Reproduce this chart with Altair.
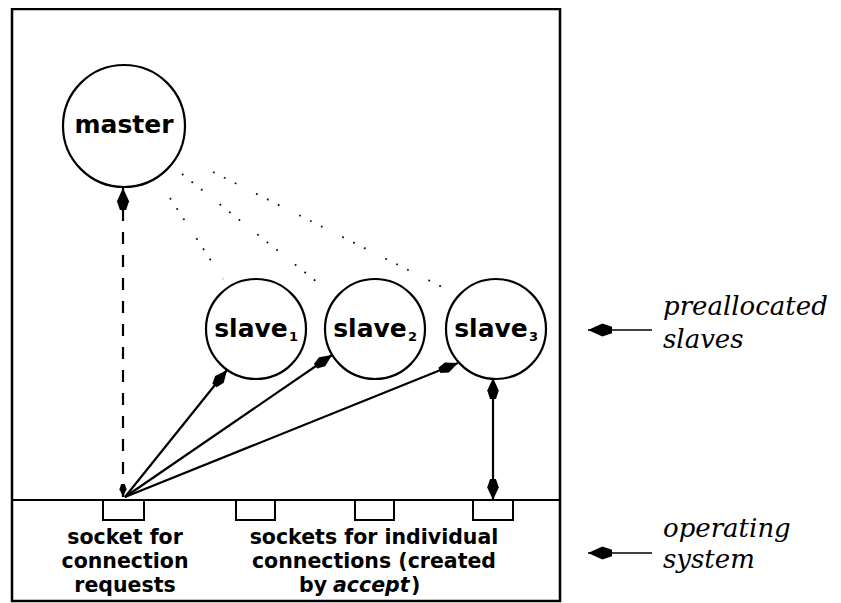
import math
import altair as alt
import pandas as pd

# ---- frame of the figure (pixel space of the picture) ----
X_DOMAIN = [8, 833]
Y_DOMAIN = [8, 603]

# outer box and operating-system divider
box_left, box_right, box_top, box_bottom = [12], [560], [9], [601]
os_line_y = [500]

# processes (circles)
node_label = ["master", "slave", "slave", "slave"]
node_sub = ["", "1", "2", "3"]
node_cx = [124, 256, 375, 496]
node_cy = [126, 329, 329, 329]
node_r = [61, 50, 50, 50]

# sockets (small boxes hanging under the divider)
socket_x = [103, 236, 355, 473]
socket_x2 = [144, 275, 394, 513]
socket_y = [500, 500, 500, 500]
socket_y2 = [520, 520, 520, 520]

# arrows: start -> end, style, heads
arrow_x1 = [123, 125, 125, 125, 493, 652, 652]
arrow_y1 = [497, 497, 497, 497, 500, 330, 553]
arrow_x2 = [123, 227, 332, 458, 493, 588, 588]
arrow_y2 = [188, 370, 355, 363, 378, 330, 553]
arrow_style = ["dash", "solid", "solid", "solid", "solid", "thin", "thin"]
arrow_head_end = [484, 400, 400, 400, 441, 576, 576]     # head size (area units)
arrow_head_start = [169, 0, 0, 0, 441, 0, 0]

# dotted lines master -> slaves
dot_x1 = [170, 182, 213]
dot_y1 = [198, 174, 172]
dot_x2 = [223, 327, 448]
dot_y2 = [279, 290, 290]

# bottom captions
cap_left = ["socket for", "connection", "requests"]
cap_right = ["sockets for individual", "connections (created"]
cap_baselines = [544, 568, 592]

# side labels
side_text = ["preallocated", "slaves", "operating", "system"]
side_y = [315, 348, 537, 568]

HEAD = "M0,-1L0.55,0.2L0.28,1L-0.28,1L-0.55,0.2Z"

xs = alt.Scale(domain=X_DOMAIN, nice=False, zero=False)
ys = alt.Scale(domain=Y_DOMAIN, reverse=True, nice=False, zero=False)


def X(f):
    return alt.X(f, type="quantitative", scale=xs, axis=None)


def Y(f):
    return alt.Y(f, type="quantitative", scale=ys, axis=None)


layers = []

# outer box
box_df = pd.DataFrame({"x": box_left, "x2": box_right, "y": box_top, "y2": box_bottom})
layers.append(
    alt.Chart(box_df).mark_rect(fill="white", stroke="black", strokeWidth=2.5)
    .encode(x=X("x"), x2="x2", y=Y("y"), y2="y2")
)

# divider
div_df = pd.DataFrame({"x": box_left, "x2": box_right, "y": os_line_y})
layers.append(
    alt.Chart(div_df).mark_rule(color="black", strokeWidth=2)
    .encode(x=X("x"), x2="x2", y=Y("y"))
)

# sockets
sock_df = pd.DataFrame({"x": socket_x, "x2": socket_x2, "y": socket_y, "y2": socket_y2})
layers.append(
    alt.Chart(sock_df).mark_rect(fill="white", stroke="black", strokeWidth=2)
    .encode(x=X("x"), x2="x2", y=Y("y"), y2="y2")
)

# dotted lines
dot_df = pd.DataFrame({"x": dot_x1, "y": dot_y1, "x2": dot_x2, "y2": dot_y2})
layers.append(
    alt.Chart(dot_df).mark_rule(color="#111", strokeWidth=1.8,
                                strokeDash=[1.8, 10.4, 1.8, 10.4, 1.8, 22])
    .encode(x=X("x"), y=Y("y"), x2="x2", y2="y2")
)

# arrows
arr_df = pd.DataFrame({"x": arrow_x1, "y": arrow_y1, "x2": arrow_x2, "y2": arrow_y2,
                       "style": arrow_style})
for style, kw in [("dash", dict(strokeWidth=2.2, strokeDash=[12, 11])),
                  ("solid", dict(strokeWidth=2.2)),
                  ("thin", dict(strokeWidth=1.3))]:
    layers.append(
        alt.Chart(arr_df[arr_df["style"] == style]).mark_rule(color="black", **kw)
        .encode(x=X("x"), y=Y("y"), x2="x2", y2="y2")
    )

# arrow heads
hx, hy, ha, hs = [], [], [], []


def add_head(tx, ty, fx, fy, size):
    L = math.sqrt(size)
    dx, dy = tx - fx, ty - fy
    n = math.hypot(dx, dy)
    dx, dy = dx / n, dy / n
    hx.append(tx - dx * L / 2)
    hy.append(ty - dy * L / 2)
    ha.append(math.degrees(math.atan2(dx, -dy)) % 360)
    hs.append(size)


for i in range(len(arrow_x1)):
    if arrow_head_end[i]:
        add_head(arrow_x2[i], arrow_y2[i], arrow_x1[i], arrow_y1[i], arrow_head_end[i])
    if arrow_head_start[i]:
        add_head(arrow_x1[i], arrow_y1[i], arrow_x2[i], arrow_y2[i], arrow_head_start[i])
head_df = pd.DataFrame({"x": hx, "y": hy, "angle": ha, "size": hs})
layers.append(
    alt.Chart(head_df).mark_point(shape=HEAD, filled=True, color="black", opacity=1,
                                  strokeWidth=0)
    .encode(x=X("x"), y=Y("y"), angle=alt.Angle("angle:Q", scale=None),
            size=alt.Size("size:Q", scale=None))
)

# circles
node_df = pd.DataFrame({"label": node_label, "sub": node_sub, "cx": node_cx, "cy": node_cy,
                        "size": [(2 * r) ** 2 for r in node_r]})
layers.append(
    alt.Chart(node_df).mark_point(shape="circle", filled=True, fill="white", stroke="black",
                                  strokeWidth=2.2, opacity=1)
    .encode(x=X("cx"), y=Y("cy"), size=alt.Size("size:Q", scale=None))
)

FONT = "DejaVu Sans"
master_df = node_df.iloc[:1]
slave_df = node_df.iloc[1:]
layers.append(
    alt.Chart(master_df).mark_text(font=FONT, fontWeight="bold", fontSize=25,
                                   baseline="alphabetic", dy=7, color="black")
    .encode(x=X("cx"), y=Y("cy"), text="label:N")
)
layers.append(
    alt.Chart(slave_df).mark_text(font=FONT, fontWeight="bold", fontSize=25,
                                  baseline="alphabetic", dx=-5, dy=8, color="black")
    .encode(x=X("cx"), y=Y("cy"), text="label:N")
)
layers.append(
    alt.Chart(slave_df).mark_text(font=FONT, fontWeight="bold", fontSize=13,
                                  baseline="alphabetic", align="left", dx=33, dy=12,
                                  color="black")
    .encode(x=X("cx"), y=Y("cy"), text="sub:N")
)

# bottom captions
CAP = 20.5
capL = pd.DataFrame({"t": cap_left, "x": [125] * 3, "y": cap_baselines})
capR = pd.DataFrame({"t": cap_right, "x": [374] * 2, "y": cap_baselines[:2]})
for d in (capL, capR):
    layers.append(
        alt.Chart(d).mark_text(font=FONT, fontWeight="bold", fontSize=CAP,
                               baseline="alphabetic", color="black")
        .encode(x=X("x"), y=Y("y"), text="t:N")
    )
row3 = pd.DataFrame({"t": ["by", "accept", ")"], "x": [327, 333, 411],
                     "y": [cap_baselines[2]] * 3,
                     "kind": ["b", "i", "p"]})
layers.append(
    alt.Chart(row3[row3.kind == "b"]).mark_text(font=FONT, fontWeight="bold", fontSize=CAP,
                                                baseline="alphabetic", align="right",
                                                color="black")
    .encode(x=X("x"), y=Y("y"), text="t:N")
)
layers.append(
    alt.Chart(row3[row3.kind == "i"]).mark_text(font=FONT, fontWeight="bold",
                                                fontStyle="italic", fontSize=CAP,
                                                baseline="alphabetic", align="left",
                                                color="black")
    .encode(x=X("x"), y=Y("y"), text="t:N")
)
layers.append(
    alt.Chart(row3[row3.kind == "p"]).mark_text(font=FONT, fontWeight="bold", fontSize=CAP,
                                                baseline="alphabetic", align="left",
                                                color="black")
    .encode(x=X("x"), y=Y("y"), text="t:N")
)

# side labels
side_df = pd.DataFrame({"t": side_text, "x": [663] * 4, "y": side_y})
layers.append(
    alt.Chart(side_df).mark_text(font="DejaVu Serif", fontStyle="italic", fontSize=26,
                                 baseline="alphabetic", align="left", color="black")
    .encode(x=X("x"), y=Y("y"), text="t:N")
)

chart = alt.layer(*layers).properties(
    width=825, height=595, padding=0,
    autosize=alt.AutoSizeParams(type="none"), background="white"
).configure_view(stroke=None)

chart.save("out.html", embed_options={"renderer": "svg", "actions": False})
